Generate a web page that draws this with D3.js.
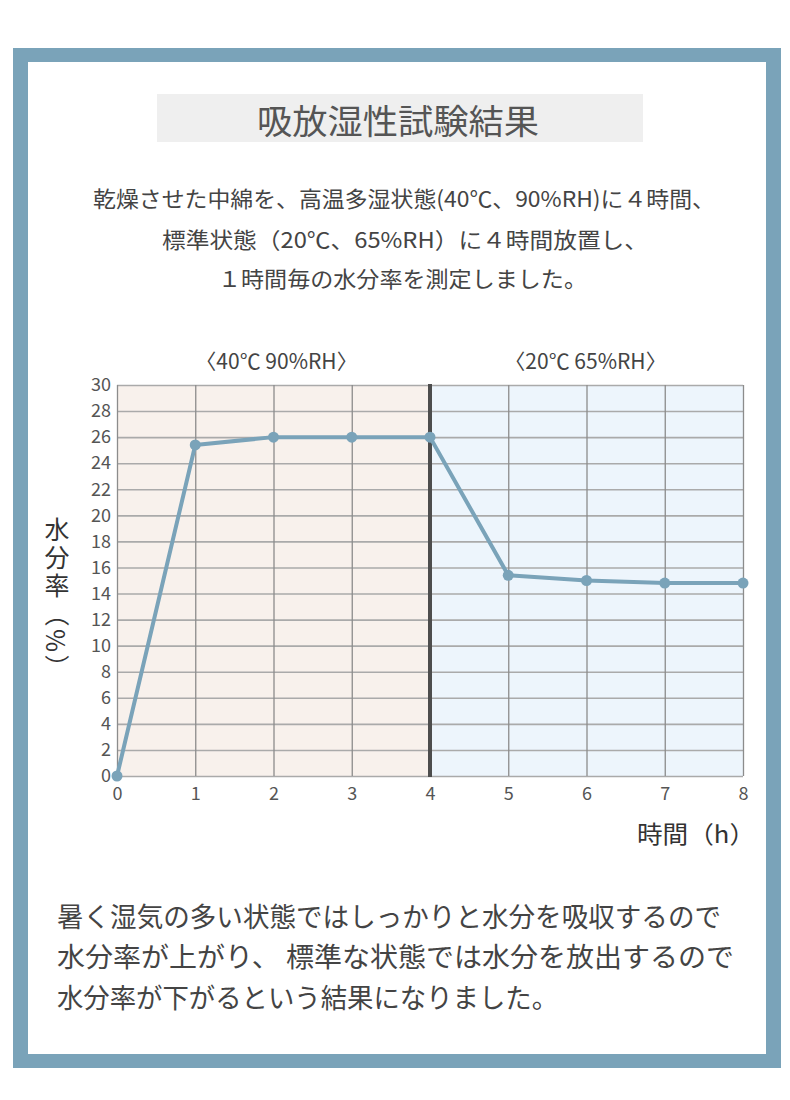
<!DOCTYPE html>
<html><head><meta charset="utf-8">
<script src="https://cdn.jsdelivr.net/npm/d3@7"></script>
<style>
body{margin:0;background:#fff}
svg{display:block}
text{font-family:"Noto Sans CJK JP","Noto Sans",sans-serif}
</style>
</head><body><svg id="c" width="790" height="1100"></svg>
<script>
const hours = [0,1,2,3,4,5,6,7,8];
const moisture = [0,25.4,26,26,26,15.4,15.0,14.8,14.8];
const yTicks = [0,2,4,6,8,10,12,14,16,18,20,22,24,26,28,30];
const xTicks = [0,1,2,3,4,5,6,7,8];
const title = "吸放湿性試験結果";
const descLines = [
  "乾燥させた中綿を、高温多湿状態(40℃、90%RH)に４時間、",
  "標準状態（20℃、65%RH）に４時間放置し、",
  "１時間毎の水分率を測定しました。"
];
const phaseLabels = ["〈40℃ 90%RH〉","〈20℃ 65%RH〉"];
const phaseStart = [0,4];
const phaseEnd = [4,8];
const phaseColors = ["#f8f1ec","#edf5fc"];
const yLabel = "水分率（%）";
const xLabel = "時間（h）";
const summaryLines = [
  "暑く湿気の多い状態ではしっかりと水分を吸収するので",
  "水分率が上がり、 標準な状態では水分を放出するので",
  "水分率が下がるという結果になりました。"
];

const svg = d3.select("#c");
const frameColor = "#7aa3b9";

// frame
svg.append("rect").attr("x",13).attr("y",48).attr("width",768).attr("height",1020).attr("fill",frameColor);
svg.append("rect").attr("x",28).attr("y",62).attr("width",738).attr("height",992).attr("fill","#fff");

// title
svg.append("rect").attr("x",157).attr("y",94).attr("width",486).attr("height",48).attr("fill","#efefef");
svg.append("text").attr("x",257).attr("y",119).attr("dominant-baseline","central")
  .attr("font-size",34).attr("fill","#555")
  .attr("textLength",282).attr("lengthAdjust","spacingAndGlyphs").text(title);

// description
const descX = [93,162,218], descY = [197,238,277], descLen = [622,486,369];
svg.selectAll("text.desc").data(descLines).join("text").attr("class","desc")
  .attr("x",(d,i)=>descX[i]).attr("y",(d,i)=>descY[i]).attr("dominant-baseline","central")
  .attr("font-size",22).attr("fill","#444")
  .attr("textLength",(d,i)=>descLen[i]).attr("lengthAdjust","spacingAndGlyphs").text(d=>d);

// scales
const x = d3.scaleLinear().domain([0,8]).range([117,743]);
const y = d3.scaleLinear().domain([0,30]).range([776,385]);

// phase backgrounds
svg.selectAll("rect.phase").data(phaseStart).join("rect").attr("class","phase")
  .attr("x",(d)=>x(d)).attr("y",y(30)).attr("width",(d,i)=>x(phaseEnd[i])-x(d)).attr("height",y(0)-y(30))
  .attr("fill",(d,i)=>phaseColors[i]);

// phase labels
svg.selectAll("text.phase").data(phaseLabels).join("text").attr("class","phase")
  .attr("x",(d,i)=>(x(phaseStart[i])+x(phaseEnd[i]))/2+(i===0?3:-1)).attr("y",360)
  .attr("text-anchor","middle").attr("dominant-baseline","central")
  .attr("font-size",21).attr("fill","#444").text(d=>d);

// grid via axes
const yAxis = d3.axisLeft(y).tickValues(yTicks).tickSize(-(x(8)-x(0))).tickPadding(6).tickFormat(d3.format("d"));
const ya = svg.append("g").attr("transform",`translate(${x(0)},0)`).call(yAxis);
ya.select(".domain").remove();
ya.selectAll(".tick line").attr("stroke","#aaa").attr("stroke-width",1.6);
ya.selectAll(".tick text").attr("font-size",18).attr("fill","#555").attr("x",-6);

const xAxis = d3.axisBottom(x).tickValues(xTicks).tickSize(-(y(0)-y(30))).tickPadding(12).tickFormat(d3.format("d"));
const xa = svg.append("g").attr("transform",`translate(0,${y(0)})`).call(xAxis);
xa.select(".domain").remove();
xa.selectAll(".tick line").attr("stroke","#8c8c8c").attr("stroke-width",1.3);
xa.selectAll(".tick text").attr("font-size",18).attr("fill","#555").attr("y",11);

// divider
svg.append("line").attr("x1",x(4)).attr("x2",x(4)).attr("y1",y(30)-1).attr("y2",y(0)+1)
  .attr("stroke","#4d4d4d").attr("stroke-width",4);

// axis titles
svg.append("text").attr("x",57).attr("y",517).attr("font-size",25).attr("fill","#333")
  .style("writing-mode","vertical-rl").style("letter-spacing","3px").text(yLabel);
svg.append("text").attr("x",637).attr("y",832).attr("dominant-baseline","central").attr("font-size",24).attr("fill","#333")
  .attr("textLength",118).attr("lengthAdjust","spacingAndGlyphs").text(xLabel);

// line
const data = hours.map((h,i)=>({h,v:moisture[i]}));
svg.append("path").datum(data).attr("fill","none").attr("stroke",frameColor).attr("stroke-width",4)
  .attr("stroke-linejoin","round")
  .attr("d",d3.line().x(d=>x(d.h)).y(d=>y(d.v)));
svg.selectAll("circle.pt").data(data).join("circle").attr("class","pt")
  .attr("cx",d=>x(d.h)).attr("cy",d=>y(d.v)).attr("r",5.5).attr("fill",frameColor);

// summary
const sumY = [915,955,996], sumLen = [664,677,501];
svg.selectAll("text.sum").data(summaryLines).join("text").attr("class","sum")
  .attr("x",57).attr("y",(d,i)=>sumY[i]).attr("dominant-baseline","central")
  .attr("font-size",27).attr("fill","#444")
  .attr("textLength",(d,i)=>sumLen[i]).attr("lengthAdjust","spacingAndGlyphs").text(d=>d);
</script>
</body></html>
